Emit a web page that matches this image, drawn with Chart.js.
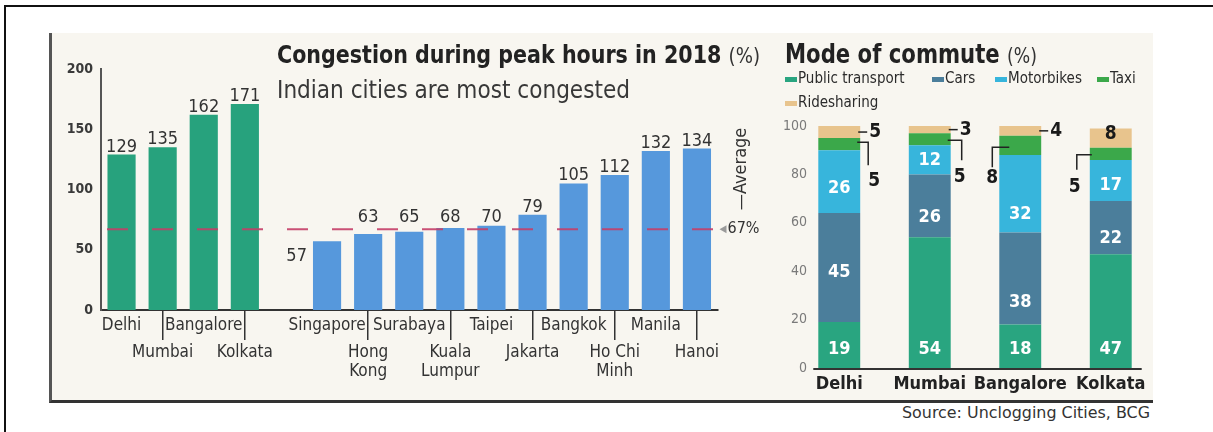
<!DOCTYPE html>
<html><head><meta charset="utf-8">
<script src="https://cdn.jsdelivr.net/npm/chart.js@4.4.1/dist/chart.umd.min.js"></script>
<style>
html,body{margin:0;padding:0;background:#fff;width:1213px;height:432px;overflow:hidden;position:relative;}
#frame{position:absolute;left:4px;top:5px;width:1300px;height:500px;border-top:2px solid #111;border-left:2px solid #111;}
#panel{position:absolute;left:49px;top:33px;width:1101px;height:367px;background:#f8f6f0;border-left:3px solid #555;border-bottom:3px solid #333;}
.fit{position:absolute;white-space:nowrap;line-height:1;transform-origin:left top;color:#222;}
canvas{position:absolute;}
#left{left:50px;top:33px;}
#right{left:770px;top:33px;}
</style></head>
<body>
<div id="frame"></div>
<div id="panel"></div>
<canvas id="left" width="720" height="367"></canvas>
<canvas id="right" width="390" height="367"></canvas>
<div class="fit" data-w="483" style="left:277px;top:42px;font-size:25px;font-weight:bold;">Congestion during peak hours in 2018 <span style="font-weight:normal;font-size:22px;color:#333">(%)</span></div>
<div class="fit" data-w="353" style="left:277px;top:77px;font-size:25px;color:#383838;">Indian cities are most congested</div>
<div class="fit" data-w="252" style="left:785px;top:40px;font-size:27px;font-weight:bold;">Mode of commute <span style="font-weight:normal;font-size:22px;color:#333">(%)</span></div>
<div class="fit" data-w="248" style="left:902px;top:406px;font-size:15px;color:#333;">Source: Unclogging Cities, BCG</div>
<script>
// ---------- DATA ----------
const indianCities = ['Delhi', 'Mumbai', 'Bangalore', 'Kolkata'];
const indianCongestion = [129, 135, 162, 171];
const asianCities = ['Singapore', ['Hong', 'Kong'], 'Surabaya', ['Kuala', 'Lumpur'], 'Taipei', 'Jakarta', 'Bangkok', ['Ho Chi', 'Minh'], 'Manila', 'Hanoi'];
const asianCongestion = [57, 63, 65, 68, 70, 79, 105, 112, 132, 134];
const averageCongestion = 67;
const congestionTicks = [0, 50, 100, 150, 200];

const commuteCities = ['Delhi', 'Mumbai', 'Bangalore', 'Kolkata'];
const modeNames = ['Public transport', 'Cars', 'Motorbikes', 'Taxi', 'Ridesharing'];
const publicTransport = [19, 54, 18, 47];
const cars = [45, 26, 38, 22];
const motorbikes = [26, 12, 32, 17];
const taxi = [5, 5, 8, 5];
const ridesharing = [5, 3, 4, 8];
const commuteTicks = [0, 20, 40, 60, 80, 100];

// ---------- STYLE ----------
const GREEN = '#27a27d', BLUE = '#5698dc';
const modeColors = ['#29a580', '#4b7e9b', '#37b5dc', '#3ba84a', '#e8c48d'];

function hasFont(name) {
  const c = document.createElement('canvas').getContext('2d');
  const s = 'mmmmmmmmmmlli1WQ08';
  c.font = '40px monospace'; const a = c.measureText(s).width;
  c.font = '40px "' + name + '", monospace'; const b = c.measureText(s).width;
  c.font = '40px serif'; const d = c.measureText(s).width;
  c.font = '40px "' + name + '", serif'; const e = c.measureText(s).width;
  return a !== b || d !== e;
}
const NARROW = hasFont('Liberation Sans Narrow');
const FAM = NARROW ? '"Liberation Sans Narrow", sans-serif' : '"DejaVu Sans Condensed", "DejaVu Sans", sans-serif';
const K = NARROW ? 1 : 0.8;
const fs = s => Math.round(s * K);
const font = (s, w) => (w || 'normal') + ' ' + fs(s) + 'px ' + FAM;

document.querySelectorAll('.fit').forEach(el => {
  el.style.fontFamily = FAM;
  const w = el.getBoundingClientRect().width;
  el.style.transform = 'scaleX(' + (+el.dataset.w / w) + ')';
});

// ---------- LEFT CHART ----------
const leftLabels = [...indianCities, '', ...asianCities];
const leftValues = [...indianCongestion, null, ...asianCongestion];
const leftColors = [...indianCities.map(() => GREEN), 'rgba(0,0,0,0)', ...asianCities.map(() => BLUE)];
const secondRow = [...indianCities.map((_, i) => i % 2 === 1), false, ...asianCities.map((_, i) => i % 2 === 1)];

const leftDecor = {
  id: 'leftDecor',
  afterDatasetsDraw(chart) {
    const { ctx, scales: { x, y } } = chart;
    const meta = chart.getDatasetMeta(0);
    const ya = y.getPixelForValue(averageCongestion);
    ctx.save();
    // average line
    ctx.strokeStyle = 'rgba(196,62,104,0.9)';
    ctx.lineWidth = 2;
    ctx.setLineDash([21, 24]);
    ctx.beginPath(); ctx.moveTo(x.left + 6, ya); ctx.lineTo(x.right, ya); ctx.stroke();
    ctx.setLineDash([]);
    // average marker
    ctx.fillStyle = '#9a9a9a';
    ctx.beginPath(); ctx.moveTo(x.right + 2, ya); ctx.lineTo(x.right + 9, ya - 4); ctx.lineTo(x.right + 9, ya + 4); ctx.closePath(); ctx.fill();
    ctx.fillStyle = '#333';
    ctx.font = font(20);
    ctx.textAlign = 'left'; ctx.textBaseline = 'middle';
    ctx.fillText(averageCongestion + '%', x.right + 10, ya, 41);
    ctx.save();
    ctx.translate(x.right + 24, ya - 19);
    ctx.rotate(-Math.PI / 2);
    ctx.font = font(23);
    ctx.fillText('\u2014Average', 0, 0, 93);
    ctx.restore();
    // value labels
    ctx.font = font(22);
    ctx.fillStyle = '#333';
    meta.data.forEach((bar, i) => {
      const v = leftValues[i];
      if (v == null) return;
      if (v < averageCongestion - 5) {
        ctx.textAlign = 'right'; ctx.textBaseline = 'alphabetic';
        ctx.fillText(String(v), bar.x - bar.width / 2 - 6, bar.y + 20);
      } else {
        ctx.textAlign = 'center'; ctx.textBaseline = 'alphabetic';
        ctx.fillText(String(v), bar.x, Math.min(bar.y, ya - 4) - 3);
      }
    });
    // category labels
    ctx.font = font(21);
    ctx.fillStyle = '#333';
    ctx.textAlign = 'center'; ctx.textBaseline = 'middle';
    leftLabels.forEach((lab, i) => {
      if (!lab) return;
      const lines = Array.isArray(lab) ? lab : [lab];
      const cx = x.getPixelForValue(i);
      const y0 = y.bottom + (secondRow[i] ? 43 : 16);
      lines.forEach((ln, k) => ctx.fillText(ln, cx, y0 + k * 19));
    });
    ctx.restore();
  }
};

new Chart(document.getElementById('left'), {
  type: 'bar',
  data: { labels: leftLabels, datasets: [{ data: leftValues, backgroundColor: leftColors, barPercentage: 0.685, categoryPercentage: 1 }] },
  options: {
    responsive: false, animation: false,
    layout: { padding: { top: 36, right: 52.5, left: 0, bottom: 0 } },
    plugins: { legend: { display: false }, tooltip: { enabled: false } },
    scales: {
      x: {
        grid: { display: true, drawOnChartArea: false, offset: false, drawTicks: true, tickLength: 30, lineWidth: 1.5,
          color: c => secondRow[c.index] ? '#333' : 'rgba(0,0,0,0)' },
        border: { display: true, color: '#333', width: 2 },
        ticks: { display: false, autoSkip: false },
        afterFit(s) { s.height = 90; }
      },
      y: {
        min: 0, max: 200,
        afterBuildTicks(s) { s.ticks = congestionTicks.map(v => ({ value: v })); },
        ticks: { padding: 8, color: '#3a3a3a', font: { family: FAM, size: fs(18), weight: 'bold' } },
        grid: { display: false, drawTicks: false },
        border: { display: true, color: '#555', width: 2 },
        afterFit(s) { s.width = 51; }
      }
    }
  },
  plugins: [leftDecor]
});

// ---------- RIGHT CHART ----------
const modeSeries = [publicTransport, cars, motorbikes, taxi, ridesharing];
const innerLift = [[19, 19, 19, 19], [50, 20, 22, 16], [25, 14, 18, 16]];
const taxiCallout = [
  { dir: 1, inset: 3, reach: 8, dy: -2, drop: 21, lx: 14, ly: 37 },
  { dir: 1, inset: 3, reach: 11, dy: 1, drop: 21, lx: 9, ly: 38 },
  { dir: -1, inset: 10, reach: 7, dy: 2, drop: 22, lx: 7, ly: 33 },
  { dir: -1, inset: 2, reach: 13, dy: 1, drop: 16, lx: 15, ly: 33 }
];
const rideInside = [false, false, false, true];
const legendPos = [[15, 0], [162, 0], [225, 0], [327, 0], [15, 1]];
const legendW = [126, 40, 85, 32, 93];

const rightDecor = {
  id: 'rightDecor',
  afterDatasetsDraw(chart) {
    const { ctx, scales: { x, y } } = chart;
    ctx.save();
    // y tick labels (drawn past the axis box, which Chart.js would clip)
    ctx.fillStyle = '#7a7a7a';
    ctx.font = font(18);
    ctx.textAlign = 'right'; ctx.textBaseline = 'middle';
    y.ticks.forEach(t => ctx.fillText(String(t.value), y.right + 13, y.getPixelForValue(t.value)));
    // baseline
    const m0 = chart.getDatasetMeta(0).data;
    const first = m0[0], last = m0[m0.length - 1];
    ctx.strokeStyle = '#333'; ctx.lineWidth = 2;
    ctx.beginPath();
    ctx.moveTo(first.x - first.width / 2 - 5, y.bottom + 1);
    ctx.lineTo(last.x + last.width / 2 + 10, y.bottom + 1);
    ctx.stroke();
    // inner labels
    ctx.fillStyle = '#fff';
    ctx.font = font(23, 'bold');
    ctx.textAlign = 'center'; ctx.textBaseline = 'middle';
    for (let d = 0; d < 3; d++) {
      chart.getDatasetMeta(d).data.forEach((el, i) => {
        ctx.fillText(String(modeSeries[d][i]), el.x, el.base - innerLift[d][i]);
      });
    }
    // taxi callouts
    ctx.strokeStyle = '#222'; ctx.lineWidth = 1.5;
    ctx.fillStyle = '#1a1a1a';
    ctx.font = font(24, 'bold');
    chart.getDatasetMeta(3).data.forEach((el, i) => {
      const st = taxiCallout[i];
      const cy = (el.y + el.base) / 2;
      const edge = el.x + st.dir * el.width / 2;
      const y0 = cy + st.dy;
      const xe = edge + st.dir * st.reach;
      ctx.beginPath();
      ctx.moveTo(edge - st.dir * st.inset, y0); ctx.lineTo(xe, y0); ctx.lineTo(xe, cy + st.drop);
      ctx.stroke();
      ctx.textAlign = 'center';
      ctx.fillText(String(taxi[i]), edge + st.dir * st.lx, cy + st.ly);
    });
    // ridesharing labels
    chart.getDatasetMeta(4).data.forEach((el, i) => {
      const cy = (el.y + el.base) / 2;
      if (rideInside[i]) {
        ctx.textAlign = 'center';
        ctx.fillText(String(ridesharing[i]), el.x, cy - 4);
      } else {
        const r = el.x + el.width / 2;
        ctx.beginPath(); ctx.moveTo(r - 2, cy); ctx.lineTo(r + 7, cy); ctx.stroke();
        ctx.textAlign = 'left';
        ctx.fillText(String(ridesharing[i]), r + 9, cy);
      }
    });
    // legend
    ctx.font = font(19);
    ctx.textAlign = 'left'; ctx.textBaseline = 'alphabetic';
    chart.data.datasets.forEach((ds, i) => {
      const [lx, row] = legendPos[i];
      const base = 50 + row * 24;
      ctx.fillStyle = ds.backgroundColor;
      ctx.fillRect(lx, base - 6, 12, 5);
      ctx.fillStyle = '#2b2b2b';
      ctx.fillText(ds.label, lx + 13, base, legendW[i]);
    });
    ctx.restore();
  }
};

new Chart(document.getElementById('right'), {
  type: 'bar',
  data: {
    labels: commuteCities,
    datasets: modeNames.map((n, i) => ({ label: n, data: modeSeries[i], backgroundColor: modeColors[i], barPercentage: 0.463, categoryPercentage: 1 }))
  },
  options: {
    responsive: false, animation: false,
    layout: { padding: { top: 93, right: 4, left: 0, bottom: 0 } },
    plugins: { legend: { display: false }, tooltip: { enabled: false } },
    scales: {
      x: {
        stacked: true,
        grid: { display: false, drawTicks: false },
        border: { display: false },
        ticks: { padding: 6, autoSkip: false, maxRotation: 0, minRotation: 0, color: '#222', font: { family: FAM, size: fs(22), weight: 'bold' } },
        afterFit(s) { s.height = 32; }
      },
      y: {
        stacked: true, min: 0, max: 100,
        afterBuildTicks(s) { s.ticks = commuteTicks.map(v => ({ value: v })); },
        ticks: { display: false },
        grid: { display: false, drawTicks: false },
        border: { display: false },
        afterFit(s) { s.width = 24; }
      }
    }
  },
  plugins: [rightDecor]
});
</script>
</body></html>
